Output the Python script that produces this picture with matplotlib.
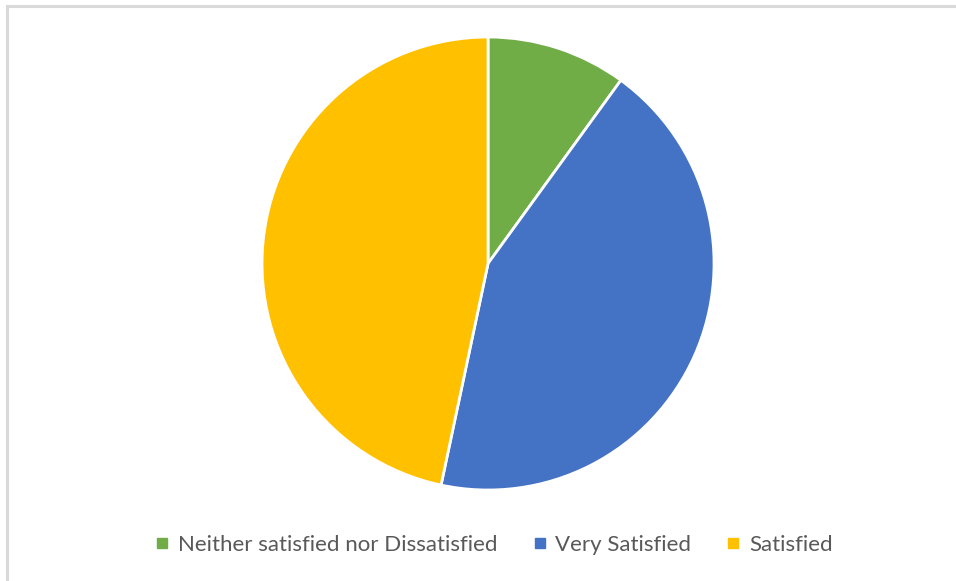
import matplotlib
matplotlib.use("Agg")
import matplotlib.pyplot as plt
from matplotlib.lines import Line2D

categories = ["Neither satisfied nor Dissatisfied", "Very Satisfied", "Satisfied"]
values = [3, 13, 14]
colors = ["#70AD47", "#4472C4", "#FFC000"]

fig = plt.figure(figsize=(9.56, 5.81), dpi=100)
fig.patch.set_facecolor("white")

ax = fig.add_axes([0.2741, 0.1566, 0.4728, 0.7797])
ax.pie(values, colors=colors, startangle=90, counterclock=False,
       wedgeprops=dict(edgecolor="white", linewidth=2))
ax.set_xlim(-1.0, 1.0)
ax.set_ylim(-1.0, 1.0)
ax.set_aspect("auto")
ax.axis("off")

# border (top and left visible)
fig.add_artist(Line2D([7/956, 1.0], [1 - 6/581, 1 - 6/581], color="#D9D9D9", lw=2.2,
                      transform=fig.transFigure))
fig.add_artist(Line2D([7/956, 7/956], [0.0, 1 - 6/581], color="#D9D9D9", lw=2.2,
                      transform=fig.transFigure))

handles = [Line2D([0], [0], marker="s", linestyle="none", markersize=7,
                  markerfacecolor=c, markeredgecolor=c) for c in colors]
leg = fig.legend(handles, categories, loc="center", bbox_to_anchor=(493/956, 1 - 545/581),
                 ncol=3, frameon=False, handlelength=0.8,
                 handletextpad=0.3, columnspacing=1.5,
                 prop={"family": "Lato", "size": 16})
for t in leg.get_texts():
    t.set_color("#595959")

fig.savefig("out.png", dpi=100)
